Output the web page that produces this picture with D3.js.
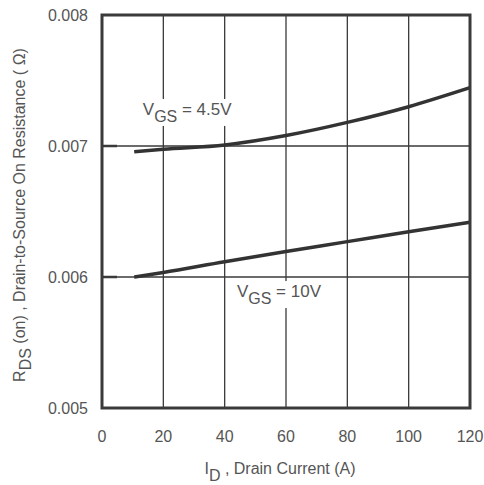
<!DOCTYPE html>
<html>
<head>
<meta charset="utf-8">
<script src="https://cdn.jsdelivr.net/npm/d3@7"></script>
<style>
  body { margin: 0; background: #fff; }
  text { font-family: "Liberation Sans", Arial, sans-serif; fill: #555; }
</style>
</head>
<body>
<div id="chart"></div>
<script>
// drain current (A) and on-resistance (ohm)
var idVals = [10.5, 20, 40, 60, 80, 100, 120];
var rds45 = [0.006956, 0.006975, 0.007008, 0.00708, 0.00718, 0.0073, 0.007445];
var rds10 = [0.006, 0.006035, 0.006117, 0.006195, 0.00627, 0.006346, 0.006418];

var xTicks = [0, 20, 40, 60, 80, 100, 120];
var yTicks = [0.005, 0.006, 0.007, 0.008];

var W = 484, H = 485;
var margin = {top: 15, right: 14, bottom: 77, left: 102},
    width = W - margin.left - margin.right,
    height = H - margin.top - margin.bottom;

var x = d3.scaleLinear().domain([0, 120]).range([0, width]);
var y = d3.scaleLinear().domain([0.005, 0.008]).range([height, 0]);

var svg = d3.select("#chart").append("svg")
    .attr("width", W)
    .attr("height", H);

var g = svg.append("g")
    .attr("transform", "translate(" + margin.left + "," + margin.top + ")");

// grid
g.append("g").selectAll("line")
    .data(xTicks.slice(1, -1))
    .enter().append("line")
    .attr("x1", function(d) { return x(d); })
    .attr("x2", function(d) { return x(d); })
    .attr("y1", 0).attr("y2", height)
    .attr("stroke", "#3a3a3a").attr("stroke-width", 1.3);

g.append("g").selectAll("line")
    .data(yTicks.slice(1, -1))
    .enter().append("line")
    .attr("x1", 0).attr("x2", width)
    .attr("y1", function(d) { return y(d); })
    .attr("y2", function(d) { return y(d); })
    .attr("stroke", "#3a3a3a").attr("stroke-width", 1.3);

// short inner ticks on the left edge
g.append("g").selectAll("line")
    .data(yTicks.slice(1, -1))
    .enter().append("line")
    .attr("x1", 0).attr("x2", 15)
    .attr("y1", function(d) { return y(d); })
    .attr("y2", function(d) { return y(d); })
    .attr("stroke", "#3a3a3a").attr("stroke-width", 2.5);

// curves
var line = d3.line()
    .x(function(d) { return x(d[0]); })
    .y(function(d) { return y(d[1]); })
    .curve(d3.curveMonotoneX);

[rds45, rds10].forEach(function(s) {
    g.append("path")
        .datum(idVals.map(function(v, i) { return [v, s[i]]; }))
        .attr("d", line)
        .attr("fill", "none")
        .attr("stroke", "#333")
        .attr("stroke-width", 3.5);
});

// curve labels with white background
function vgsLabel(px, py, val) {
    var lg = g.append("g");
    var bg = lg.append("rect").attr("fill", "#fff");
    var t = lg.append("text")
        .attr("x", px).attr("y", py)
        .attr("font-size", 17);
    t.append("tspan").text("V");
    t.append("tspan").attr("dy", 7).attr("font-size", 16).text("GS");
    t.append("tspan").attr("dy", -7).text(" = " + val);
    var b = t.node().getBBox();
    bg.attr("x", b.x - 4).attr("y", b.y - 1)
        .attr("width", b.width + 8).attr("height", b.height + 2);
}
vgsLabel(x(13.3), y(0.007237), "4.5V");
vgsLabel(x(44), y(0.005847), "10V");

// frame
g.append("rect")
    .attr("width", width).attr("height", height)
    .attr("fill", "none")
    .attr("stroke", "#3a3a3a")
    .attr("stroke-width", 3);

// tick labels
g.append("g").selectAll("text")
    .data(xTicks)
    .enter().append("text")
    .attr("x", function(d) { return x(d); })
    .attr("y", height + 34)
    .attr("text-anchor", "middle")
    .attr("font-size", 16)
    .text(function(d) { return d; });

g.append("g").selectAll("text")
    .data(yTicks)
    .enter().append("text")
    .attr("x", -14)
    .attr("y", function(d) { return y(d) + 6; })
    .attr("text-anchor", "end")
    .attr("font-size", 16)
    .text(function(d) { return d.toFixed(3); });

// axis titles
var xt = svg.append("text")
    .attr("x", 280).attr("y", 474)
    .attr("text-anchor", "middle")
    .attr("font-size", 16);
xt.append("tspan").text("I");
xt.append("tspan").attr("dy", 7).text("D");
xt.append("tspan").attr("dy", -7).text(" , Drain Current (A)");

var yt = svg.append("text")
    .attr("transform", "translate(25,215) rotate(-90)")
    .attr("text-anchor", "middle")
    .attr("font-size", 16);
yt.append("tspan").text("R");
yt.append("tspan").attr("dy", 6).text("DS");
yt.append("tspan").attr("dy", -6).text(" (on) , Drain-to-Source On Resistance ( Ω)");
</script>
</body>
</html>
